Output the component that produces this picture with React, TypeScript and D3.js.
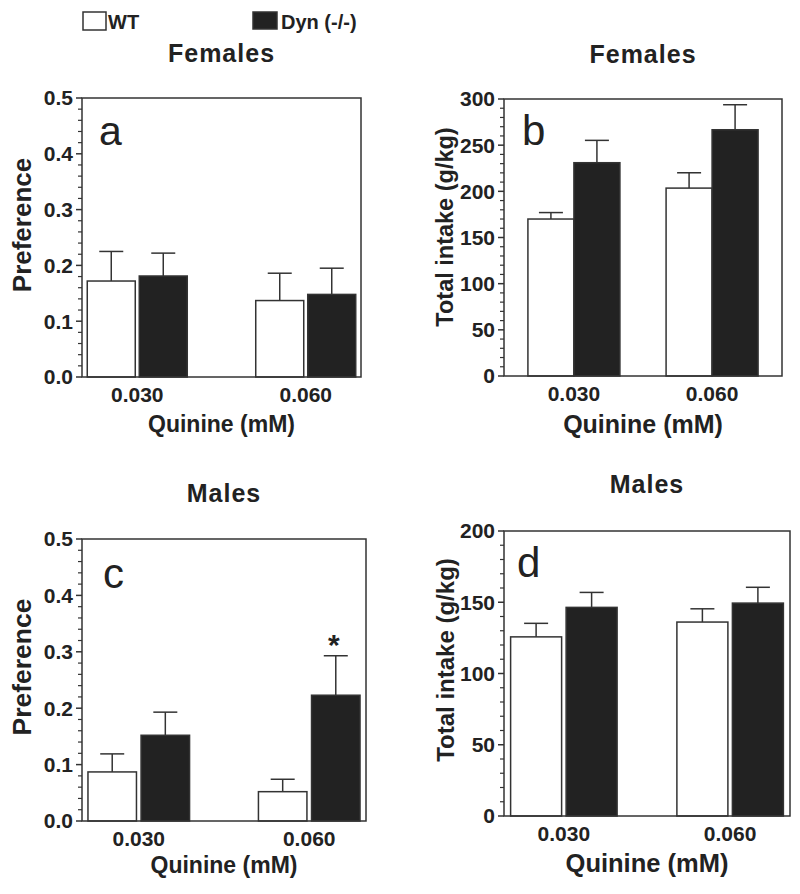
import React from "react";
import * as d3 from "d3";

const concentrations = ["0.030", "0.060"];
const genotypes = ["WT", "Dyn (-/-)"];

// Panel a: Females preference
const femPrefWT = [0.172, 0.137];
const femPrefWTSem = [0.053, 0.049];
const femPrefDyn = [0.181, 0.148];
const femPrefDynSem = [0.041, 0.047];

// Panel b: Females total intake
const femIntakeWT = [170, 203.5];
const femIntakeWTSem = [7, 16.6];
const femIntakeDyn = [231, 266.7];
const femIntakeDynSem = [24.2, 27.1];

// Panel c: Males preference
const malePrefWT = [0.087, 0.052];
const malePrefWTSem = [0.032, 0.022];
const malePrefDyn = [0.152, 0.223];
const malePrefDynSem = [0.041, 0.07];

// Panel d: Males total intake
const maleIntakeWT = [125.7, 136.1];
const maleIntakeWTSem = [9.5, 9.3];
const maleIntakeDyn = [146.4, 149.4];
const maleIntakeDynSem = [10.5, 11.1];

const prefTicks = [0, 0.1, 0.2, 0.3, 0.4, 0.5];
const femIntakeTicks = [0, 50, 100, 150, 200, 250, 300];
const maleIntakeTicks = [0, 50, 100, 150, 200];

const FONT = "'Liberation Sans', Arial, Helvetica, sans-serif";
const INK = "#222";
const LINE = "#333";

type PanelProps = {
  left: number; right: number; top: number; bottom: number;
  yMax: number; ticks: number[]; minorStep: number; fmt: (v: number) => string;
  wt: number[]; wtSem: number[]; dyn: number[]; dynSem: number[];
  groupPad: number; barW: number; gap: number;
  letter: string; letterX: number; letterY: number; letterSize: number;
  title: string; titleY: number;
  yLabel: string; yLabelX: number; yLabelY: number; yLabelSize: number;
  xLabelSize: number; xLabelBaseline: number;
  star?: number[];
};

function Panel(p: PanelProps) {
  const x = d3.scalePoint<string>().domain(concentrations).range([p.left, p.right]).padding(p.groupPad);
  const half = p.barW + p.gap / 2;
  const inner = d3.scaleBand<string>().domain(genotypes).range([-half, half]).paddingInner(p.gap / (p.barW + p.gap));
  const y = d3.scaleLinear().domain([0, p.yMax]).range([p.bottom, p.top]);
  const minors = d3.range(0, p.yMax + 1e-9, p.minorStep).filter(v => !p.ticks.some(t => Math.abs(t - v) < 1e-9));
  const series = [
    { g: genotypes[0], vals: p.wt, sems: p.wtSem, fill: "#fff" },
    { g: genotypes[1], vals: p.dyn, sems: p.dynSem, fill: "#222" },
  ];
  const cx = (p.left + p.right) / 2;
  const capW = 24;
  return (
    <g>
      <text x={cx} y={p.titleY} textAnchor="middle" fontSize={25} fontWeight="bold" letterSpacing={1} fill={INK}>{p.title}</text>
      {series.map(s => concentrations.map((c, i) => {
        const bx = (x(c) as number) + (inner(s.g) as number);
        const bw = inner.bandwidth();
        const top = y(s.vals[i]);
        const et = y(s.vals[i] + s.sems[i]);
        const mx = bx + bw / 2;
        return (
          <g key={s.g + c}>
            <line x1={mx} x2={mx} y1={top} y2={et} stroke={LINE} strokeWidth={1.5} />
            <line x1={mx - capW / 2} x2={mx + capW / 2} y1={et} y2={et} stroke={LINE} strokeWidth={1.5} />
            <rect x={bx} y={top} width={bw} height={p.bottom - top} fill={s.fill} stroke={LINE} strokeWidth={1.5} />
          </g>
        );
      }))}
      {p.star && p.star.map(i => {
        const bx = (x(concentrations[i]) as number) + (inner(genotypes[1]) as number) + inner.bandwidth() / 2;
        return <text key={"s" + i} x={bx - 2} y={y(p.dyn[i] + p.dynSem[i]) - 1} textAnchor="middle" fontSize={30} fontWeight="bold" fill={INK}>*</text>;
      })}
      <rect x={p.left} y={p.top} width={p.right - p.left} height={p.bottom - p.top} fill="none" stroke={LINE} strokeWidth={1.5} />
      {p.ticks.map(t => (
        <g key={"t" + t}>
          <line x1={p.left - 6} x2={p.left} y1={y(t)} y2={y(t)} stroke={LINE} strokeWidth={1.5} />
          <text x={p.left - 9} y={y(t)} dy="0.35em" textAnchor="end" fontSize={21} fontWeight="bold" fill={INK}>{p.fmt(t)}</text>
        </g>
      ))}
      {minors.map(t => (
        <line key={"m" + t} x1={p.left - 4} x2={p.left} y1={y(t)} y2={y(t)} stroke={LINE} strokeWidth={1.2} />
      ))}
      {concentrations.map(c => (
        <text key={"x" + c} x={x(c)} y={p.bottom + 25} textAnchor="middle" fontSize={21} fontWeight="bold" fill={INK}>{c}</text>
      ))}
      <text x={cx} y={p.xLabelBaseline} textAnchor="middle" fontSize={p.xLabelSize} fontWeight="bold" fill={INK}>Quinine (mM)</text>
      <text transform={`translate(${p.yLabelX},${p.yLabelY}) rotate(-90)`} textAnchor="middle" fontSize={p.yLabelSize} fontWeight="bold" fill={INK}>{p.yLabel}</text>
      <text x={p.letterX} y={p.letterY} fontSize={p.letterSize} fill={INK}>{p.letter}</text>
    </g>
  );
}

export default function App() {
  const f1 = d3.format(".1f");
  const f0 = d3.format("d");
  return (
    <svg width={800} height={894} style={{ position: "absolute", left: 0, top: 0, background: "#fff" }} fontFamily={FONT}>
      <rect x={0} y={0} width={800} height={894} fill="#fff" />
      {/* legend */}
      <rect x={83} y={12} width={23} height={18} fill="#fff" stroke={LINE} strokeWidth={1.5} />
      <text x={108} y={29} fontSize={20} fontWeight="bold" fill={INK}>{genotypes[0]}</text>
      <rect x={253} y={12} width={24} height={17} fill="#222" stroke={LINE} strokeWidth={1.5} />
      <text x={281} y={29} fontSize={20} fontWeight="bold" fill={INK}>{genotypes[1]}</text>

      <Panel left={82} right={361} top={98} bottom={377} yMax={0.5} ticks={prefTicks} minorStep={0.02} fmt={f1}
        wt={femPrefWT} wtSem={femPrefWTSem} dyn={femPrefDyn} dynSem={femPrefDynSem}
        groupPad={0.328} barW={48} gap={4}
        letter="a" letterX={99} letterY={145} letterSize={41}
        title="Females" titleY={62}
        yLabel="Preference" yLabelX={31} yLabelY={225} yLabelSize={26}
        xLabelSize={23} xLabelBaseline={432} />
      <Panel left={504} right={782} top={99} bottom={376} yMax={300} ticks={femIntakeTicks} minorStep={10} fmt={f0}
        wt={femIntakeWT} wtSem={femIntakeWTSem} dyn={femIntakeDyn} dynSem={femIntakeDynSem}
        groupPad={0.506} barW={46} gap={0}
        letter="b" letterX={522} letterY={145} letterSize={42}
        title="Females" titleY={62.5}
        yLabel="Total intake (g/kg)" yLabelX={453} yLabelY={227} yLabelSize={23.5}
        xLabelSize={25} xLabelBaseline={433} />
      <Panel left={82} right={366} top={539} bottom={821} yMax={0.5} ticks={prefTicks} minorStep={0.02} fmt={f1}
        wt={malePrefWT} wtSem={malePrefWTSem} dyn={malePrefDyn} dynSem={malePrefDynSem}
        groupPad={0.333} barW={48.5} gap={4.6}
        letter="c" letterX={103} letterY={588} letterSize={42}
        title="Males" titleY={502}
        yLabel="Preference" yLabelX={31} yLabelY={667} yLabelSize={26.5}
        xLabelSize={23} xLabelBaseline={873} star={[1]} />
      <Panel left={504} right={790} top={531} bottom={816} yMax={200} ticks={maleIntakeTicks} minorStep={10} fmt={f0}
        wt={maleIntakeWT} wtSem={maleIntakeWTSem} dyn={maleIntakeDyn} dynSem={maleIntakeDynSem}
        groupPad={0.36} barW={51} gap={4.5}
        letter="d" letterX={517} letterY={577} letterSize={42}
        title="Males" titleY={493}
        yLabel="Total intake (g/kg)" yLabelX={454} yLabelY={660} yLabelSize={24}
        xLabelSize={25.5} xLabelBaseline={872} />
    </svg>
  );
}
